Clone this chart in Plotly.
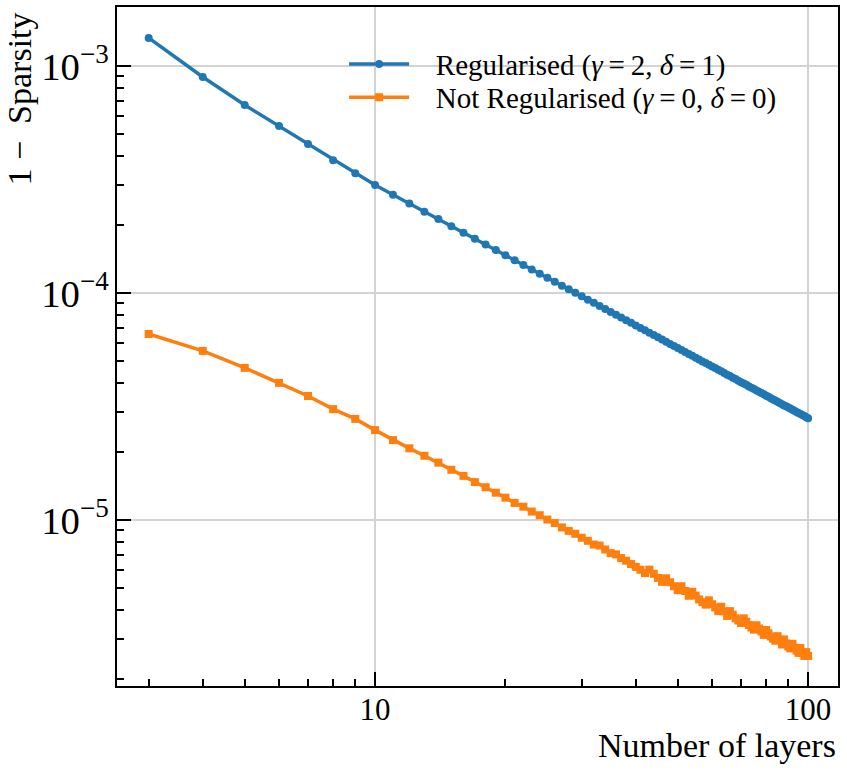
import plotly.graph_objects as go

# number of layers (x) shared by both runs
layers = list(range(3, 101))

# 1 - sparsity, regularised run (gamma=2, delta=1)
reg = [
    1.33e-3, 8.95e-4, 6.73e-4, 5.44e-4, 4.53e-4, 3.85e-4, 3.37e-4, 2.99e-4,
    2.71e-4, 2.48e-4, 2.28e-4, 2.12e-4, 1.97e-4, 1.845e-4, 1.734e-4, 1.635e-4,
    1.547e-4, 1.468e-4, 1.396e-4, 1.330e-4, 1.271e-4, 1.216e-4, 1.167e-4, 1.121e-4,
    1.078e-4, 1.038e-4, 1.002e-4, 9.67e-5, 9.35e-5, 9.06e-5, 8.77e-5, 8.51e-5,
    8.26e-5, 8.02e-5, 7.80e-5, 7.59e-5, 7.39e-5, 7.20e-5, 7.02e-5, 6.85e-5,
    6.69e-5, 6.53e-5, 6.38e-5, 6.24e-5, 6.10e-5, 5.97e-5, 5.85e-5, 5.73e-5,
    5.61e-5, 5.50e-5, 5.39e-5, 5.29e-5, 5.19e-5, 5.10e-5, 5.00e-5, 4.92e-5,
    4.83e-5, 4.75e-5, 4.67e-5, 4.59e-5, 4.52e-5, 4.44e-5, 4.37e-5, 4.31e-5,
    4.24e-5, 4.18e-5, 4.11e-5, 4.05e-5, 3.99e-5, 3.94e-5, 3.88e-5, 3.83e-5,
    3.78e-5, 3.72e-5, 3.67e-5, 3.63e-5, 3.58e-5, 3.53e-5, 3.49e-5, 3.44e-5,
    3.40e-5, 3.36e-5, 3.32e-5, 3.28e-5, 3.24e-5, 3.20e-5, 3.17e-5, 3.13e-5,
    3.10e-5, 3.06e-5, 3.03e-5, 2.99e-5, 2.96e-5, 2.93e-5, 2.90e-5, 2.87e-5,
    2.84e-5, 2.81e-5,
]

# 1 - sparsity, not regularised (gamma=0, delta=0)
notreg = [
    6.6e-5, 5.56e-5, 4.68e-5, 4.02e-5, 3.52e-5, 3.08e-5, 2.79e-5, 2.49e-5,
    2.25e-5, 2.07e-5, 1.92e-5, 1.79e-5, 1.665e-5, 1.565e-5, 1.47e-5, 1.395e-5,
    1.32e-5, 1.255e-5, 1.19e-5, 1.145e-5, 1.09e-5, 1.05e-5, 1.005e-5, 9.70e-6,
    9.28e-6, 8.96e-6, 8.70e-6, 8.36e-6, 8.10e-6, 7.80e-6, 7.72e-6, 7.42e-6,
    7.15e-6, 7.06e-6, 6.80e-6, 6.62e-6, 6.40e-6, 6.22e-6, 6.04e-6, 5.84e-6,
    6.05e-6, 5.80e-6, 5.56e-6, 5.34e-6, 5.54e-6, 5.32e-6, 5.11e-6, 4.91e-6,
    5.11e-6, 4.87e-6, 4.64e-6, 4.83e-6, 4.65e-6, 4.47e-6, 4.35e-6, 4.24e-6,
    4.43e-6, 4.26e-6, 4.12e-6, 3.97e-6, 4.15e-6, 3.96e-6, 3.78e-6, 3.97e-6,
    3.83e-6, 3.69e-6, 3.61e-6, 3.52e-6, 3.69e-6, 3.57e-6, 3.45e-6, 3.36e-6,
    3.29e-6, 3.44e-6, 3.33e-6, 3.23e-6, 3.12e-6, 3.28e-6, 3.17e-6, 3.07e-6,
    3.00e-6, 2.94e-6, 3.08e-6, 2.96e-6, 2.83e-6, 2.98e-6, 2.86e-6, 2.77e-6,
    2.72e-6, 2.85e-6, 2.74e-6, 2.66e-6, 2.60e-6, 2.73e-6, 2.60e-6, 2.52e-6,
    2.62e-6, 2.52e-6,
]

FONT = "Liberation Serif, Times New Roman, serif"
BLUE = "#1f77b4"
ORANGE = "#ff7f0e"
TS = "\u2009"  # thin space, as around the = signs in the legend

fig = go.Figure()
fig.add_trace(go.Scatter(x=layers, y=reg, mode="lines+markers",
                         name=f"&nbsp;&nbsp;&nbsp;Regularised (<i>γ</i>{TS}={TS}2, <i>δ</i>{TS}={TS}1)",
                         line=dict(color=BLUE, width=3.5),
                         marker=dict(symbol="circle", size=8, color=BLUE),
                         legend="legend"))
fig.add_trace(go.Scatter(x=layers, y=notreg, mode="lines+markers",
                         name=f"&nbsp;&nbsp;&nbsp;Not Regularised (<i>γ</i>{TS}={TS}0, <i>δ</i>{TS}={TS}0)",
                         line=dict(color=ORANGE, width=3.5),
                         marker=dict(symbol="square", size=8, color=ORANGE),
                         legend="legend2"))

axis = dict(type="log", showline=True, linecolor="black", linewidth=2, mirror=True,
            showgrid=True, gridcolor="rgb(211,211,211)", gridwidth=1.5,
            zeroline=False, ticks="inside", ticklen=14, tickwidth=2, tickcolor="black",
            dtick=1, tickfont=dict(family=FONT, size=31, color="black"),
            minor=dict(ticks="inside", ticklen=7, tickwidth=2, tickcolor="black",
                       dtick="D1", showgrid=False))

# two legends so the rows can sit as close together as in the original
leg = dict(x=0.315, xanchor="left", yanchor="middle", bgcolor="rgba(0,0,0,0)",
           font=dict(family=FONT, size=29), itemwidth=60)

fig.update_layout(
    width=847, height=771,
    margin=dict(l=117, r=9, t=7, b=85, autoexpand=False),
    plot_bgcolor="white", paper_bgcolor="white",
    font=dict(family=FONT, size=29, color="black"),
    xaxis=dict(axis, range=[0.404, 2.069], ticklabelstandoff=-5),
    yaxis=dict(axis, range=[-5.731, -2.74], exponentformat="power"),
    legend=dict(leg, y=0.916),
    legend2=dict(leg, y=0.867),
    showlegend=True,
    annotations=[
        dict(text="Number of layers", xref="paper", yref="paper", x=1.0, y=-0.058,
             xanchor="right", yanchor="top", showarrow=False,
             font=dict(family=FONT, size=34)),
        dict(text="1 −  Sparsity", xref="paper", yref="paper", x=-0.135, y=0.995,
             xanchor="center", yanchor="top", textangle=-90, showarrow=False,
             font=dict(family=FONT, size=34)),
    ],
)

# the page body has a default 8px margin; drop it so the figure fills the window
fig.write_html("out.html", config={"displayModeBar": False},
               post_script="document.body.style.margin='0';")
